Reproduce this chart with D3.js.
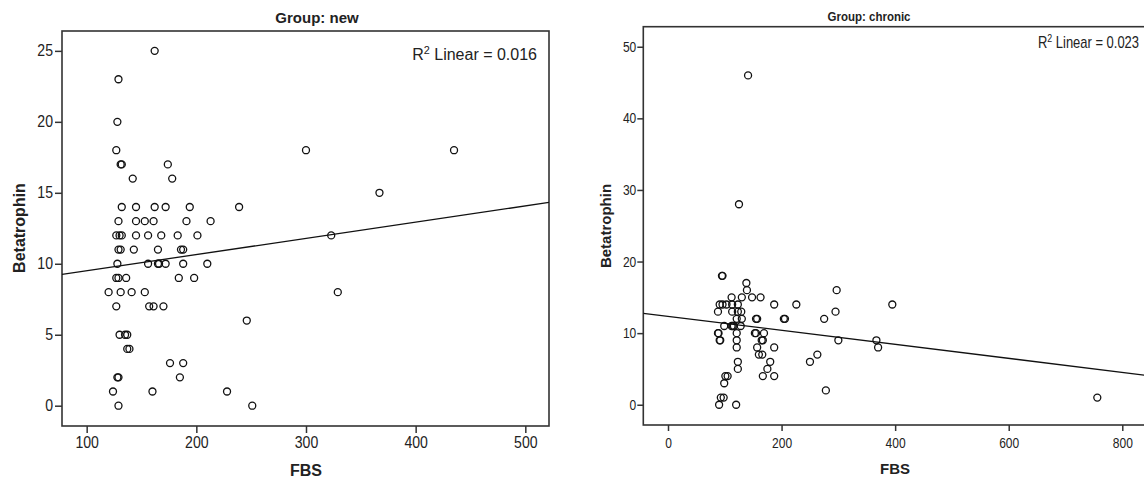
<!DOCTYPE html>
<html>
<head>
<meta charset="utf-8">
<script src="https://cdn.jsdelivr.net/npm/d3@7"></script>
<style>
  body { margin: 0; background: #fff; }
  svg text { font-family: "Liberation Sans", Arial, sans-serif; fill: #222; }
</style>
</head>
<body>
<svg id="chart" width="1144" height="478"></svg>
<script>
// ---- data ----
// Group: new
var newFBS  = [162, 129, 128, 127, 300, 435, 131, 132, 174, 142, 178, 367,
               132, 145, 162, 172, 194, 239,
               129, 145, 153, 161, 191, 213,
               127, 130, 132, 145, 156, 168, 183, 201, 323,
               129, 131, 143, 165, 186, 188,
               128, 156, 165, 166, 172, 188, 210,
               127, 129, 136, 184, 198,
               120, 131, 141, 153, 329,
               127, 157, 161, 170,
               246, 130, 135, 137, 137, 139, 176, 188,
               128, 129, 185, 124, 160, 228, 129, 251];
var newBeta = [25, 23, 20, 18, 18, 18, 17, 17, 17, 16, 16, 15,
               14, 14, 14, 14, 14, 14,
               13, 13, 13, 13, 13, 13,
               12, 12, 12, 12, 12, 12, 12, 12, 12,
               11, 11, 11, 11, 11, 11,
               10, 10, 10, 10, 10, 10, 10,
               9, 9, 9, 9, 9,
               8, 8, 8, 8, 8,
               7, 7, 7, 7,
               6, 5, 5, 5, 4, 4, 3, 3,
               2, 2, 2, 1, 1, 1, 0, 0];
var newFit = [8.365, 0.01142];   // intercept, slope
var newR2 = "0.016";

// Group: chronic
var chronicFBS  = [141, 125, 95, 96, 138, 139, 297,
                   112, 130, 148, 163,
                   91, 96, 103, 113, 123, 187, 226, 395,
                   88, 113, 123, 129, 295,
                   121, 130, 155, 157, 204, 206, 275,
                   99, 112, 114, 116, 128,
                   88, 89, 121, 153, 155, 169,
                   91, 92, 121, 165, 167, 300, 367,
                   121, 157, 187, 370,
                   160, 166, 263,
                   123, 180, 250,
                   123, 175,
                   101, 105, 167, 187,
                   99, 278, 93, 98, 756, 90, 120];
var chronicBeta = [46, 28, 18, 18, 17, 16, 16,
                   15, 15, 15, 15,
                   14, 14, 14, 14, 14, 14, 14, 14,
                   13, 13, 13, 13, 13,
                   12, 12, 12, 12, 12, 12, 12,
                   11, 11, 11, 11, 11,
                   10, 10, 10, 10, 10, 10,
                   9, 9, 9, 9, 9, 9, 9,
                   8, 8, 8, 8,
                   7, 7, 7,
                   6, 6, 6,
                   5, 5,
                   4, 4, 4, 4,
                   3, 2, 1, 1, 1, 0, 0];
var chronicFit = [12.345, -0.00978];
var chronicR2 = "0.023";

var newXTicks = [100, 200, 300, 400, 500];
var newYTicks = [0, 5, 10, 15, 20, 25];
var chronicXTicks = [0, 200, 400, 600, 800];
var chronicYTicks = [0, 10, 20, 30, 40, 50];

var svg = d3.select("#chart");

// squeeze text horizontally (the reference uses a narrow face)
function squash(sel, k, origin){
  sel.style("transform-box", "fill-box")
     .style("transform-origin", origin || "center")
     .style("transform", "scaleX(" + k + ")");
}

function drawPanel(p, id){
  var x = d3.scaleLinear().domain(p.xDomain).range([p.left, p.right]);
  var y = d3.scaleLinear().domain(p.yDomain).range([p.bottom, p.top]);

  var g = svg.append("g");

  g.append("clipPath").attr("id", "clip" + id)
    .append("rect")
    .attr("x", p.left).attr("y", p.top)
    .attr("width", p.right - p.left).attr("height", p.bottom - p.top);

  // frame
  g.append("rect")
    .attr("x", p.left).attr("y", p.top)
    .attr("width", p.right - p.left).attr("height", p.bottom - p.top)
    .attr("fill", "none").attr("stroke", "#333").attr("stroke-width", 1.6);

  var xAxis = d3.axisBottom(x).tickValues(p.xTicks).tickSize(p.xTickLen).tickPadding(p.xPad);
  var yAxis = d3.axisLeft(y).tickValues(p.yTicks).tickSize(p.yTickLen).tickPadding(p.yPad);

  var gx = g.append("g")
    .attr("transform", "translate(0," + p.bottom + ")")
    .call(xAxis);
  var gy = g.append("g")
    .attr("transform", "translate(" + p.left + ",0)")
    .call(yAxis);

  [gx, gy].forEach(function(a){
    a.select(".domain").remove();
    a.selectAll("line").attr("stroke", "#333").attr("stroke-width", 1.5);
    a.selectAll("text")
      .style("font-family", '"Liberation Sans", Arial, sans-serif')
      .style("font-size", p.tickFont + "px")
      .attr("fill", "#333");
  });
  squash(gx.selectAll("text"), p.tickSquash, "center");
  squash(gy.selectAll("text"), p.tickSquash, "right center");

  // fit line
  g.append("line")
    .attr("clip-path", "url(#clip" + id + ")")
    .attr("x1", x(p.xDomain[0])).attr("y1", y(p.fit[0] + p.fit[1] * p.xDomain[0]))
    .attr("x2", x(p.xDomain[1])).attr("y2", y(p.fit[0] + p.fit[1] * p.xDomain[1]))
    .attr("stroke", "#111").attr("stroke-width", 1.3);

  // points
  g.selectAll("circle.pt")
    .data(d3.range(p.fbs.length))
    .enter().append("circle")
    .attr("class", "pt")
    .attr("cx", function(i){ return x(p.fbs[i]); })
    .attr("cy", function(i){ return y(p.beta[i]); })
    .attr("r", 3.5)
    .attr("fill", "none")
    .attr("stroke", "#111")
    .attr("stroke-width", 1.3);

  // title
  var t = g.append("text")
    .attr("x", p.titleX).attr("y", p.titleY)
    .attr("text-anchor", "middle")
    .style("font-size", p.titleFont + "px")
    .style("font-weight", "bold")
    .attr("fill", "#111")
    .text(p.title);
  squash(t, p.titleSquash);

  // R squared label
  var r = g.append("text")
    .attr("x", p.r2X).attr("y", p.r2Y)
    .attr("text-anchor", "end")
    .style("font-size", p.r2Font + "px")
    .attr("fill", "#333");
  r.append("tspan").text("R");
  r.append("tspan").attr("dy", -6).style("font-size", (p.r2Font * 0.68) + "px").text("2");
  r.append("tspan").attr("dy", 6).text(" Linear = " + p.r2);
  squash(r, p.r2Squash, "right center");

  // axis titles
  var xl = g.append("text")
    .attr("x", p.xLabelX).attr("y", p.xLabelY)
    .attr("text-anchor", "middle")
    .style("font-size", p.labelFont + "px")
    .style("font-weight", "bold")
    .attr("fill", "#111")
    .text("FBS");

  g.append("text")
    .attr("transform", "translate(" + p.yLabelX + "," + p.yLabelY + ") rotate(-90)")
    .attr("text-anchor", "middle")
    .style("font-size", p.labelFont + "px")
    .style("font-weight", "bold")
    .attr("fill", "#111")
    .text("Betatrophin");
}

drawPanel({
  left: 62, right: 549, top: 31, bottom: 426,
  xDomain: [77.5, 521.6], yDomain: [-1.43, 26.4],
  xTicks: newXTicks, yTicks: newYTicks,
  xTickLen: 7, xPad: 4, yTickLen: 7, yPad: 2,
  tickFont: 16, tickSquash: 0.88,
  fbs: newFBS, beta: newBeta, fit: newFit, r2: newR2,
  title: "Group: new", titleX: 317, titleY: 23, titleFont: 15, titleSquash: 1,
  r2X: 537, r2Y: 60, r2Font: 16, r2Squash: 1,
  labelFont: 16, xLabelX: 306, xLabelY: 476, yLabelX: 25, yLabelY: 228
}, 1);

drawPanel({
  left: 643.3, right: 1150, top: 26.7, bottom: 425,
  xDomain: [-43.5, 848.8], yDomain: [-2.83, 52.8],
  xTicks: chronicXTicks, yTicks: chronicYTicks,
  xTickLen: 6, xPad: 7, yTickLen: 6, yPad: 1,
  tickFont: 14, tickSquash: 0.86,
  fbs: chronicFBS, beta: chronicBeta, fit: chronicFit, r2: chronicR2,
  title: "Group: chronic", titleX: 869, titleY: 21, titleFont: 12.5, titleSquash: 0.92,
  r2X: 1139, r2Y: 48, r2Font: 16, r2Squash: 0.81,
  labelFont: 15, xLabelX: 895, xLabelY: 474, yLabelX: 611, yLabelY: 226
}, 2);
</script>
</body>
</html>
